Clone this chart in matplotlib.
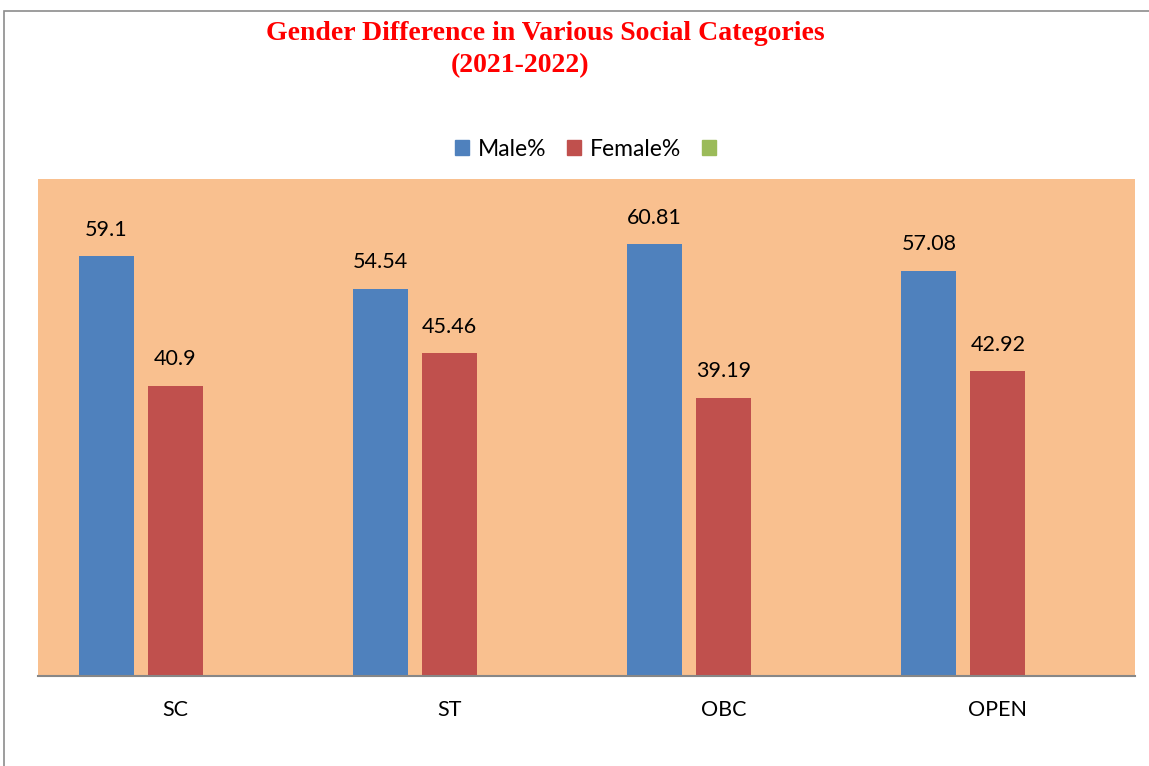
import numpy as np
import matplotlib.pyplot as plt
from matplotlib.patches import Rectangle, Patch

categories = ["SC", "ST", "OBC", "OPEN"]
male = [59.1, 54.54, 60.81, 57.08]
female = [40.9, 45.46, 39.19, 42.92]
third = [0, 0, 0, 0]  # empty third series (legend entry only)

male_labels = ["59.1", "54.54", "60.81", "57.08"]
female_labels = ["40.9", "45.46", "39.19", "42.92"]

blue = "#4F81BD"
red = "#C0504D"
green = "#9BBB59"
bg = "#F9C08F"

plt.rcParams['font.family'] = ['Lato', 'DejaVu Sans']

fig = plt.figure(figsize=(11.49, 7.66), dpi=100)
ax = fig.add_axes([38/1149, 90/766, 1097/1149, 497/766])
ax.set_facecolor(bg)

x = np.arange(len(categories))
w = 0.2
step = 0.2516
ax.bar(x - step, male, w, color=blue, zorder=2)
ax.bar(x, female, w, color=red, zorder=2)
ax.bar(x + step, third, w, color=green, zorder=2)

for xi, v, s in zip(x, male, male_labels):
    ax.annotate(s, (xi - step, v), xytext=(0, 19), textcoords="offset points",
                ha="center", va="center", fontsize=15.5)
for xi, v, s in zip(x, female, female_labels):
    ax.annotate(s, (xi, v), xytext=(0, 19), textcoords="offset points",
                ha="center", va="center", fontsize=15.5)

ax.set_xlim(-0.5, 3.5)
ax.set_ylim(0, 70)
ax.set_yticks([])
ax.set_xticks(x)
ax.set_xticklabels(categories, fontsize=15.5)
ax.tick_params(axis="x", length=0, pad=17)
for side in ["top", "left", "right"]:
    ax.spines[side].set_visible(False)
ax.spines["bottom"].set_color("#878787")
ax.spines["bottom"].set_linewidth(1.5)

# outer chart border
fig.patches.append(Rectangle((4/1149, -0.1), 1.2, 1 - 11/766 + 0.1,
                             transform=fig.transFigure, fill=False,
                             edgecolor="#8C8C8C", linewidth=1.2))

fig.text(545/1149, 1 - 33/766, "Gender Difference in Various Social Categories",
         ha="center", va="center", color="red", fontsize=20, fontweight="bold",
         family="Liberation Serif")
fig.text(520/1149, 1 - 66/766, "(2021-2022)",
         ha="center", va="center", color="red", fontsize=20, fontweight="bold",
         family="Liberation Serif")

handles = [Patch(color=blue), Patch(color=red), Patch(color=green)]
fig.legend(handles, ["Male%", "Female%", ""], loc="center",
           bbox_to_anchor=(590/1149, 1 - 149/766), ncol=3, frameon=False,
           fontsize=16.5, handlelength=0.6, handleheight=0.6,
           handletextpad=0.4, columnspacing=0.9)

fig.savefig("out.png", dpi=100)
